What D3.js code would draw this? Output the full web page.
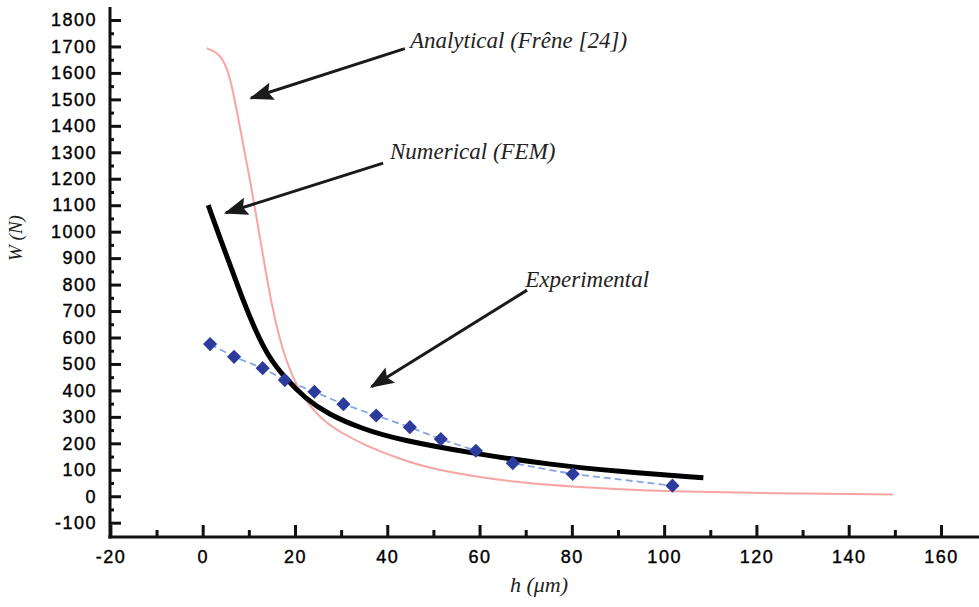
<!DOCTYPE html>
<html lang="en">
<head>
<meta charset="UTF-8">
<title>W vs h</title>
<script src="https://d3js.org/d3.v7.min.js"></script>
<style>
    body { margin: 0; padding: 0; background: #fff; }
    svg { display: block; }
    .tick text { font-family: 'Liberation Sans', Arial, sans-serif; font-size: 18px; letter-spacing: 1.5px; fill: #000; stroke: #000; stroke-width: 0.4px; }
    .note { font-family: 'Liberation Serif', 'Times New Roman', serif; font-style: italic; fill: #222; }
</style>
</head>
<body>
<script>
// values (h in µm, W in N)
const xTicks = [-20, 0, 20, 40, 60, 80, 100, 120, 140, 160];
const yTicks = [-100, 0, 100, 200, 300, 400, 500, 600, 700, 800, 900, 1000, 1100, 1200, 1300, 1400, 1500, 1600, 1700, 1800];

const expH = [1.6, 6.8, 13.0, 17.8, 24.2, 30.5, 37.6, 44.9, 51.6, 59.2, 67.2, 80.2, 101.8];
const expW = [575, 527, 484, 439, 395, 348, 305, 261, 216, 172, 125, 84, 40];

const femH = [1.2, 3.75, 6.3, 8.8, 11.3, 14.2, 17.8, 22.2, 27.2, 34.5, 42.8, 59.2, 75.2, 89.7, 108.5];
const femW = [1100, 975, 858, 738, 632, 528, 448, 370, 310, 255, 212, 160, 120, 94, 70];

const anaH = [0.9, 3.8, 5.9, 8.1, 10.4, 12.6, 14.95, 17.8, 21.5, 25.8, 30.8, 35.5, 42.8, 50.0, 68.0, 89.7, 104.1, 122.2, 149.6];
const anaW = [1693, 1674, 1598, 1390, 1185, 958, 716, 515, 376, 288, 232, 190, 140, 100, 49, 26, 17, 11, 7];

// annotations: label anchor and arrow tail -> tip, in data units
const notes = [
    { text: "Analytical (Frêne [24])", lx: 44.9, ly: 1695, x1: 43.8, y1: 1692, x2: 10.5, y2: 1505 },
    { text: "Numerical (FEM)", lx: 40.6, ly: 1273, x1: 39.1, y1: 1259, x2: 5.0, y2: 1071 },
    { text: "Experimental", lx: 69.9, ly: 790, x1: 70.3, y1: 779, x2: 36.6, y2: 414 }
];

const width = 979, height = 607;
const svg = d3.select("body").append("svg")
    .attr("width", width)
    .attr("height", height);

const x = d3.scaleLinear().domain([-20, 160]).range([110.4, 941]);
const y = d3.scaleLinear().domain([-100, 1800]).range([522.7, 20]);

const axisX = 110, axisY = 537;
const fmt = d => d < 0 ? "-" + Math.abs(d) : String(d);

// minor ticks
svg.append("g")
    .attr("transform", `translate(${axisX},0)`)
    .call(d3.axisLeft(y).tickValues(d3.range(-50, 1800, 100)).tickSize(-4).tickFormat(""))
    .call(g => g.select(".domain").remove())
    .selectAll("line").attr("stroke", "#111").attr("stroke-width", 3);

svg.append("g")
    .attr("transform", `translate(0,${axisY})`)
    .call(d3.axisBottom(x).tickValues(d3.range(-10, 170, 20)).tickSize(-7).tickFormat(""))
    .call(g => g.select(".domain").remove())
    .selectAll("line").attr("stroke", "#111").attr("stroke-width", 3);

// major ticks + labels
const gy = svg.append("g")
    .attr("transform", `translate(${axisX},0)`)
    .call(d3.axisLeft(y).tickValues(yTicks).tickSize(-11).tickPadding(13).tickFormat(fmt));
gy.select(".domain").remove();
gy.selectAll("line").attr("stroke", "#111").attr("stroke-width", 3);

const gx = svg.append("g")
    .attr("transform", `translate(0,${axisY})`)
    .call(d3.axisBottom(x).tickValues(xTicks).tickSize(-12).tickFormat(fmt));
gx.select(".domain").remove();
gx.selectAll("line").attr("stroke", "#111").attr("stroke-width", 3);
gx.selectAll("text").attr("y", 26).attr("dy", 0);

// axis lines
svg.append("line").attr("x1", axisX).attr("x2", axisX).attr("y1", 7).attr("y2", axisY + 1.5)
    .attr("stroke", "#111").attr("stroke-width", 3);
svg.append("line").attr("x1", axisX - 1.5).attr("x2", width).attr("y1", axisY).attr("y2", axisY)
    .attr("stroke", "#111").attr("stroke-width", 3);

// analytical curve
const lineSmooth = d3.line().x(d => x(d[0])).y(d => y(d[1])).curve(d3.curveBasis);
svg.append("path")
    .datum(d3.zip(anaH, anaW))
    .attr("fill", "none")
    .attr("stroke", "#f7a4a4")
    .attr("stroke-width", 2)
    .attr("d", lineSmooth);

// experimental
const expData = d3.zip(expH, expW);
svg.append("path")
    .datum(expData)
    .attr("fill", "none")
    .attr("stroke", "#86a6e2")
    .attr("stroke-width", 1.8)
    .attr("stroke-dasharray", "7,4")
    .attr("d", d3.line().x(d => x(d[0])).y(d => y(d[1])));

// numerical
svg.append("path")
    .datum(d3.zip(femH, femW))
    .attr("fill", "none")
    .attr("stroke", "#000")
    .attr("stroke-width", 5)
    .attr("d", lineSmooth);

svg.selectAll(".diamond")
    .data(expData)
    .join("path")
    .attr("class", "diamond")
    .attr("d", d3.symbol(d3.symbolSquare, 100))
    .attr("transform", d => `translate(${x(d[0])},${y(d[1])}) rotate(45)`)
    .attr("fill", "#2d3b9d");

// arrows
svg.append("defs").append("marker")
    .attr("id", "head")
    .attr("viewBox", "0 0 24 18")
    .attr("refX", 22).attr("refY", 9)
    .attr("markerWidth", 24).attr("markerHeight", 18)
    .attr("markerUnits", "userSpaceOnUse")
    .attr("orient", "auto")
    .append("path")
    .attr("d", "M0,0 L24,9 L0,18 L4,9 Z")
    .attr("fill", "#1a1a1a");

svg.selectAll(".arrow")
    .data(notes)
    .join("line")
    .attr("class", "arrow")
    .attr("x1", d => x(d.x1)).attr("y1", d => y(d.y1))
    .attr("x2", d => x(d.x2)).attr("y2", d => y(d.y2))
    .attr("stroke", "#1a1a1a")
    .attr("stroke-width", 3)
    .attr("marker-end", "url(#head)");

svg.selectAll(".note-label")
    .data(notes)
    .join("text")
    .attr("class", "note note-label")
    .attr("x", d => x(d.lx))
    .attr("y", d => y(d.ly))
    .style("font-size", "23px")
    .text(d => d.text);

// axis titles
svg.append("text")
    .attr("class", "note")
    .attr("transform", "translate(22,238) rotate(-90)")
    .attr("text-anchor", "middle")
    .style("font-size", "19px")
    .text("W (N)");

svg.append("text")
    .attr("class", "note")
    .attr("x", 539).attr("y", 592)
    .attr("text-anchor", "middle")
    .style("font-size", "22px")
    .text("h (μm)");
</script>
</body>
</html>
